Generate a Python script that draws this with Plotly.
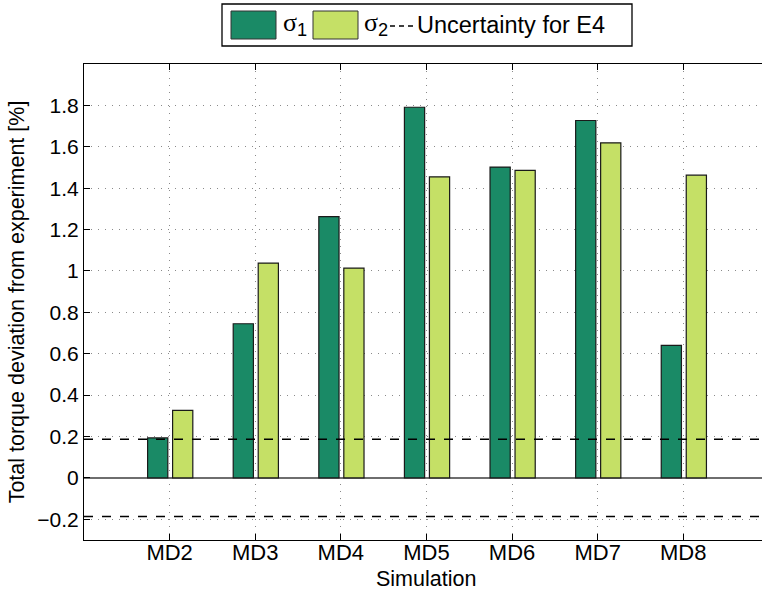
import plotly.graph_objects as go

# ---- data ----
simulations = ["MD2", "MD3", "MD4", "MD5", "MD6", "MD7", "MD8"]
sigma1 = [0.193, 0.745, 1.263, 1.791, 1.502, 1.727, 0.640]
sigma2 = [0.326, 1.038, 1.014, 1.455, 1.486, 1.619, 1.463]
uncertainty_e4 = 0.187
ytick_vals = [-0.2, 0, 0.2, 0.4, 0.6, 0.8, 1.0, 1.2, 1.4, 1.6, 1.8]
ytick_text = ["\u22120.2", "0", "0.2", "0.4", "0.6", "0.8", "1", "1.2", "1.4", "1.6", "1.8"]

DARK = "#1a8a66"
LIGHT = "#c5e066"
EDGE = "#1a1a1a"
FONT = "Liberation Sans"
GRID = "#8a8a8a"

W, H = 762, 592
L, T, B, R = 84, 64, 52, 0
pw, ph = W - L - R, H - T - B


def X(px):
    return (px - L) / pw


def Y(py):
    return (H - B - py) / ph


fig = go.Figure()
fig.add_trace(go.Bar(x=simulations, y=sigma1, width=0.236, offset=-0.257,
                     marker=dict(color=DARK, line=dict(color=EDGE, width=1.2)),
                     showlegend=False, name="σ1"))
fig.add_trace(go.Bar(x=simulations, y=sigma2, width=0.236, offset=0.035,
                     marker=dict(color=LIGHT, line=dict(color=EDGE, width=1.2)),
                     showlegend=False, name="σ2"))

for u in (uncertainty_e4, -uncertainty_e4):
    fig.add_hline(y=u, line=dict(color="black", width=1.5, dash="9px,9px"))

# ---- custom legend ----
shapes = [
    dict(type="rect", xref="paper", yref="paper", x0=X(222), x1=X(632), y0=Y(46), y1=Y(4),
         line=dict(color="black", width=1.3), fillcolor="white", layer="above"),
    dict(type="rect", xref="paper", yref="paper", x0=X(231), x1=X(276), y0=Y(39), y1=Y(11),
         line=dict(color="#333", width=1), fillcolor=DARK, layer="above"),
    dict(type="rect", xref="paper", yref="paper", x0=X(313), x1=X(358), y0=Y(39), y1=Y(11),
         line=dict(color="#333", width=1), fillcolor=LIGHT, layer="above"),
    dict(type="line", xref="paper", yref="paper", x0=X(390), x1=X(413), y0=Y(26), y1=Y(26),
         line=dict(color="black", width=1.5, dash="5px,4px"), layer="above"),
]
for s in shapes:
    fig.add_shape(**s)

sig = "<span style=\"font-family:'Liberation Serif'\">σ</span>"
sig_font = dict(family=FONT, size=26, color="black")
fig.add_annotation(xref="paper", yref="paper", x=X(281), y=Y(24), xanchor="left", yanchor="middle",
                   text=sig + "<sub>1</sub>", showarrow=False, font=sig_font)
fig.add_annotation(xref="paper", yref="paper", x=X(362), y=Y(24), xanchor="left", yanchor="middle",
                   text=sig + "<sub>2</sub>", showarrow=False, font=sig_font)
fig.add_annotation(xref="paper", yref="paper", x=X(415), y=Y(25), xanchor="left", yanchor="middle",
                   text="Uncertainty for E4", showarrow=False,
                   font=dict(family=FONT, size=23.5, color="black"))

# x-axis title placed as annotation for exact vertical position
fig.add_annotation(xref="paper", yref="paper", x=X(426), y=Y(579), xanchor="center", yanchor="middle",
                   text="Simulation", showarrow=False, font=dict(family=FONT, size=21.5, color="black"))

fig.update_layout(
    width=W, height=H,
    margin=dict(l=L, r=R, t=T, b=B),
    plot_bgcolor="white", paper_bgcolor="white",
    barmode="overlay",
    font=dict(family=FONT, size=21, color="black"),
    xaxis=dict(
        type="category", categoryorder="array", categoryarray=simulations,
        range=[-1, 6.92],
        showline=True, linecolor="black", linewidth=1.2, mirror="ticks",
        ticks="inside", ticklen=6, tickcolor="black",
        ticklabelstandoff=-8,
        showgrid=True, gridcolor=GRID, griddash="1px,6px", gridwidth=1.2,
        tickfont=dict(size=22),
    ),
    yaxis=dict(
        range=[-0.3, 2.0],
        tickvals=ytick_vals, ticktext=ytick_text,
        showline=True, linecolor="black", linewidth=1.2,
        ticks="inside", ticklen=6, tickcolor="black",
        showgrid=True, gridcolor=GRID, griddash="1px,6px", gridwidth=1.2,
        zeroline=True, zerolinecolor="#6e6e6e", zerolinewidth=1.5,
        title=dict(text="Total torque deviation from experiment [%]", standoff=6, font=dict(size=21.5)),
        tickfont=dict(size=21),
    ),
)

fig.write_html("out.html")
